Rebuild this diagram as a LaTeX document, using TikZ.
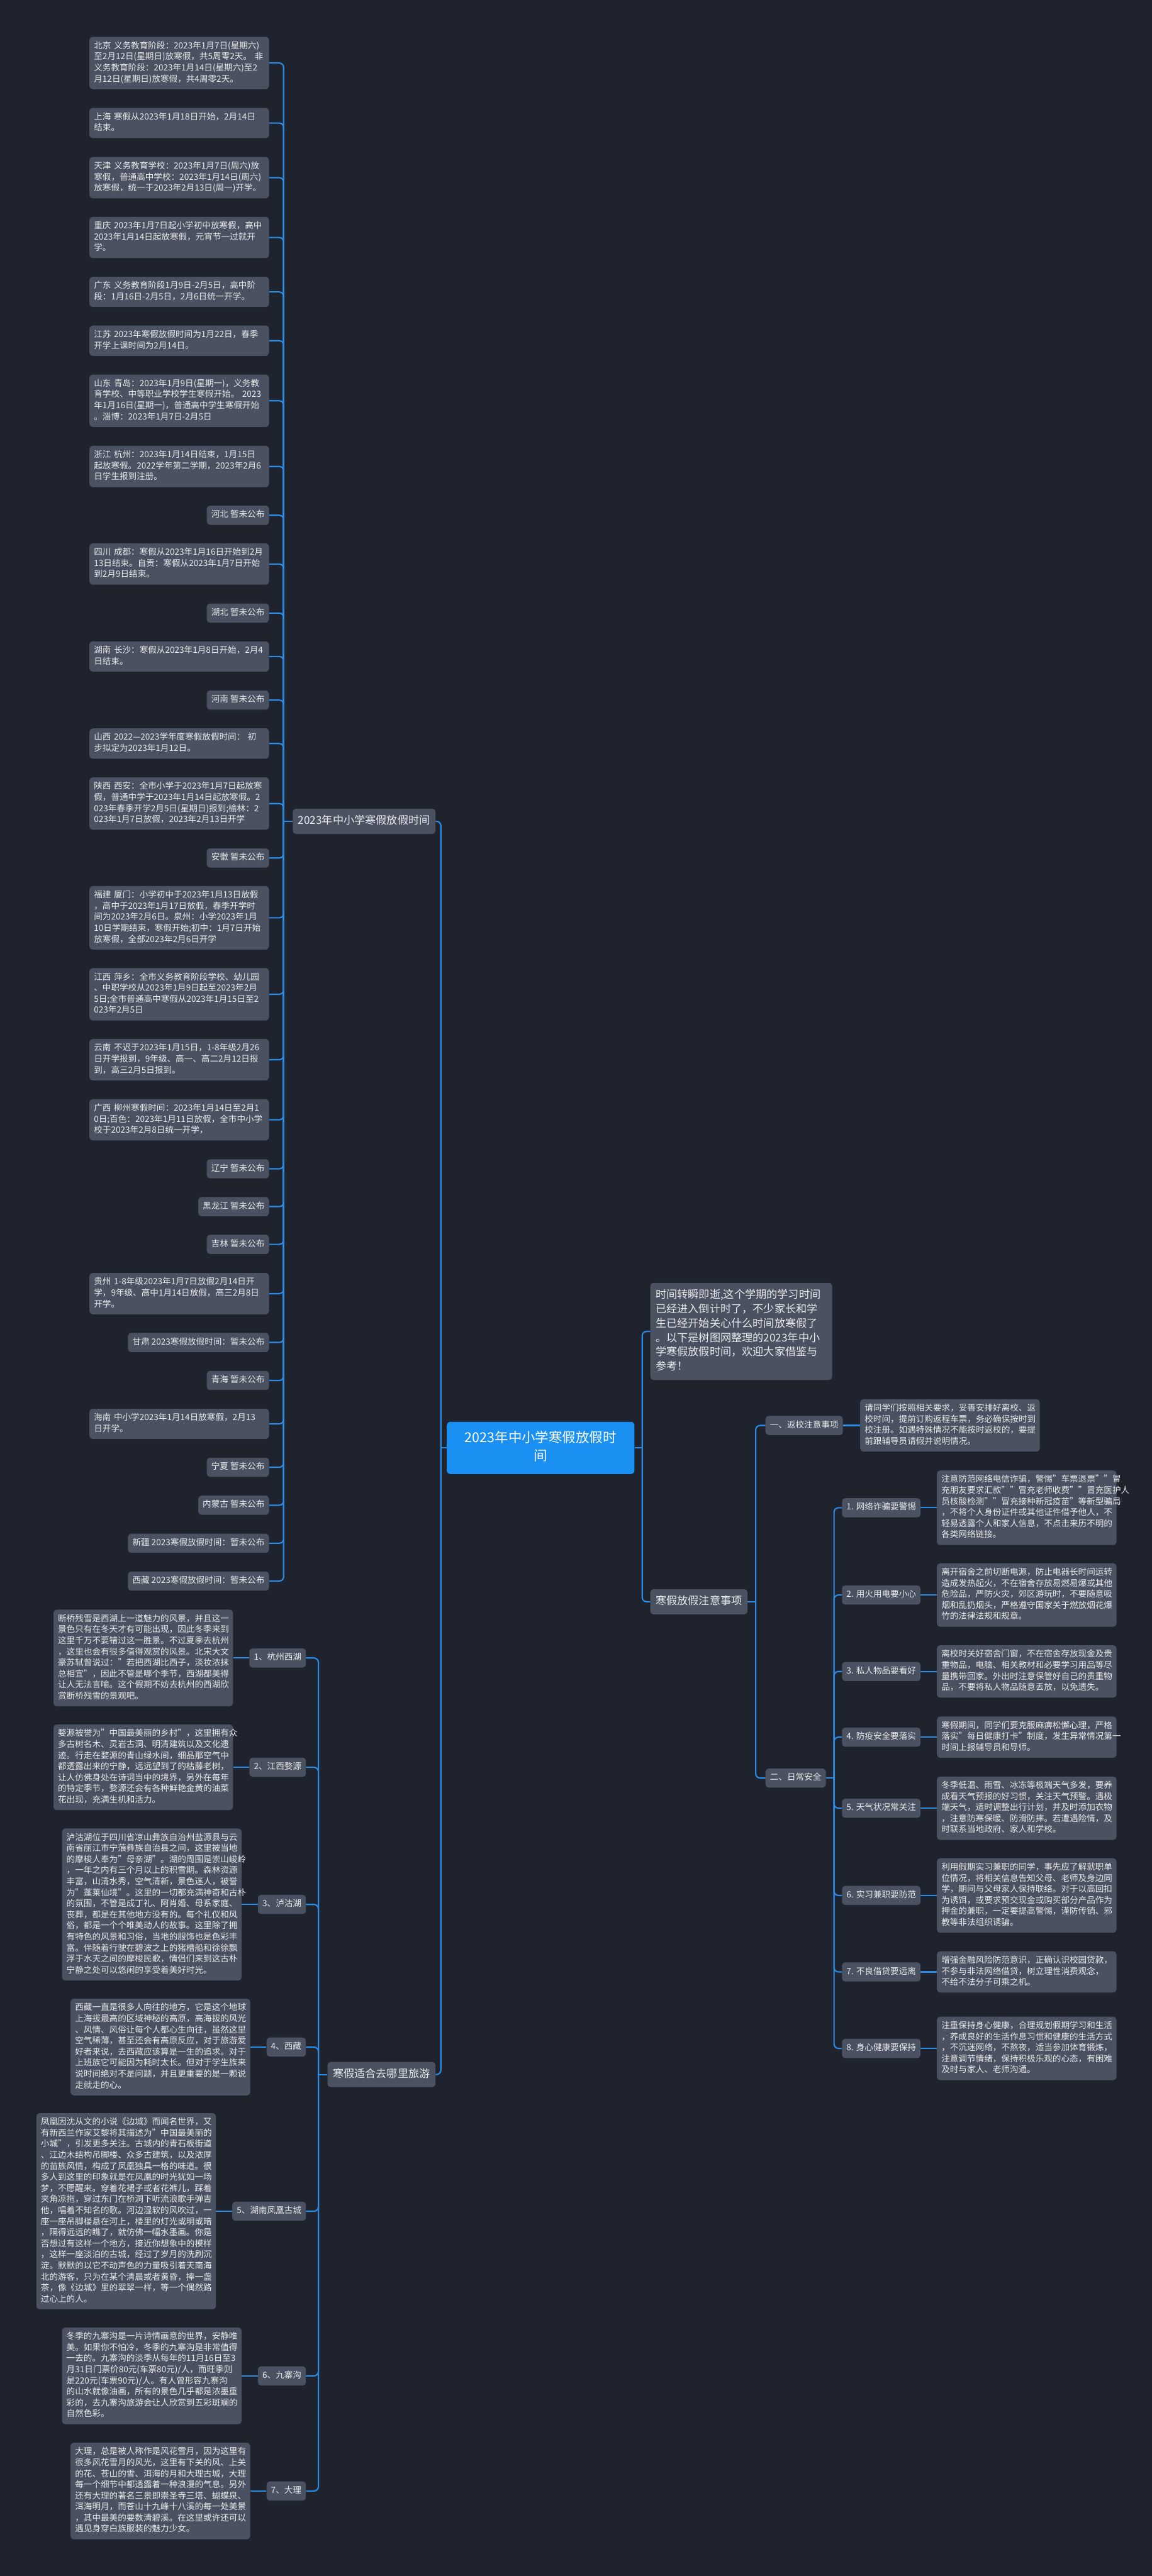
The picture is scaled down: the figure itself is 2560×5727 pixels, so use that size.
\documentclass[tikz,border=0pt]{standalone}
\usepackage{fontspec}
\setmainfont{Noto Sans CJK SC}
\usetikzlibrary{positioning}
\definecolor{bg}{HTML}{1F232E}
\definecolor{card}{HTML}{4A5160}
\definecolor{ink}{HTML}{E8EAEE}
\definecolor{wire}{HTML}{2A8CE6}
\definecolor{hubblue}{HTML}{1A90F2}

\begin{document}
\begin{tikzpicture}[x=1pt,y=-1pt,
    box/.style={fill=card,text=ink,rounded corners=7pt,inner xsep=10pt,inner ysep=9pt,
      font=\fontsize{19}{24.6}\selectfont,align=left,
      execute at begin node=\strut,execute at end node=\strut},
    leaf/.style={box,text width=379pt},
    topic/.style={box,inner xsep=12pt,inner ysep=12pt,font=\fontsize{24}{32}\selectfont},
    hub/.style={fill=hubblue,text=white,rounded corners=8pt,inner xsep=20pt,inner ysep=18pt,
      font=\fontsize{30}{40}\selectfont,align=center,text width=377pt,
      execute at begin node=\strut,execute at end node=\strut},
    link/.style={draw=wire,line width=3pt,rounded corners=10pt}
  ]
  \fill[bg] (0,0) rectangle (2560,5727);
  \useasboundingbox (0,0) rectangle (2560,5727);

  \node[hub] (root) at (1201.5,3219) {2023年中小学寒假放假时\\间};

  % left: holiday dates
  \node[topic,anchor=east] (y2023) at (968,1826) {2023年中小学寒假放假时间};
  \node[leaf,anchor=east] (bj) at (598,140) {北京~义务教育阶段：2023年1月7日(星期六)\\至2月12日(星期日)放寒假，共5周零2天。~非\\义务教育阶段：2023年1月14日(星期六)至2\\月12日(星期日)放寒假，共4周零2天。};
  \node[leaf,anchor=east] (sh) at (598,273.5) {上海~寒假从2023年1月18日开始，2月14日\\结束。};
  \node[leaf,anchor=east] (tj) at (598,395) {天津~义务教育学校：2023年1月7日(周六)放\\寒假，普通高中学校：2023年1月14日(周六)\\放寒假，统一于2023年2月13日(周一)开学。};
  \node[leaf,anchor=east] (cq) at (598,528) {重庆~2023年1月7日起小学初中放寒假，高中\\2023年1月14日起放寒假，元宵节一过就开\\学。};
  \node[leaf,anchor=east] (gd) at (598,649) {广东~义务教育阶段1月9日-2月5日，高中阶\\段：1月16日-2月5日，2月6日统一开学。};
  \node[leaf,anchor=east] (js) at (598,757.5) {江苏~2023年寒假放假时间为1月22日，春季\\开学上课时间为2月14日。};
  \node[leaf,anchor=east] (sd) at (598,891) {山东~青岛：2023年1月9日(星期一)，义务教\\育学校、中等职业学校学生寒假开始。~2023\\年1月16日(星期一)，普通高中学生寒假开始\\。淄博：2023年1月7日-2月5日};
  \node[leaf,anchor=east] (zj) at (598,1037) {浙江~杭州：2023年1月14日结束，1月15日\\起放寒假。2022学年第二学期，2023年2月6\\日学生报到注册。};
  \node[leaf,anchor=east] (sc) at (598,1254) {四川~成都：寒假从2023年1月16日开始到2月\\13日结束。自贡：寒假从2023年1月7日开始\\到2月9日结束。};
  \node[leaf,anchor=east] (hunan) at (598,1459.5) {湖南~长沙：寒假从2023年1月8日开始，2月4\\日结束。};
  \node[leaf,anchor=east] (shanxi) at (598,1653) {山西~2022—2023学年度寒假放假时间：~初\\步拟定为2023年1月12日。};
  \node[leaf,anchor=east] (shaanxi) at (598,1786.5) {陕西~西安：全市小学于2023年1月7日起放寒\\假，普通中学于2023年1月14日起放寒假。2\\023年春季开学2月5日(星期日)报到;榆林：2\\023年1月7日放假，2023年2月13日开学};
  \node[leaf,anchor=east] (fj) at (598,2040.5) {福建~厦门：小学初中于2023年1月13日放假\\，高中于2023年1月17日放假，春季开学时\\间为2023年2月6日。泉州：小学2023年1月\\10日学期结束，寒假开始;初中：1月7日开始\\放寒假，全部2023年2月6日开学};
  \node[leaf,anchor=east] (jx) at (598,2210.5) {江西~萍乡：全市义务教育阶段学校、幼儿园\\、中职学校从2023年1月9日起至2023年2月\\5日;全市普通高中寒假从2023年1月15日至2\\023年2月5日};
  \node[leaf,anchor=east] (yn) at (598,2356) {云南~不迟于2023年1月15日，1-8年级2月26\\日开学报到，9年级、高一、高二2月12日报\\到，高三2月5日报到。};
  \node[leaf,anchor=east] (gx) at (598,2489.5) {广西~柳州寒假时间：2023年1月14日至2月1\\0日;百色：2023年1月11日放假，全市中小学\\校于2023年2月8日统一开学，};
  \node[leaf,anchor=east] (gz) at (598,2876) {贵州~1-8年级2023年1月7日放假2月14日开\\学，9年级、高中1月14日放假，高三2月8日\\开学。};
  \node[leaf,anchor=east] (hainan) at (598,3165.5) {海南~中小学2023年1月14日放寒假，2月13\\日开学。};
  \foreach \n/\t/\y in {hebei/河北/1145.5,hubei/湖北/1363,henan/河南/1556.5,ah/安徽/1907.5,
      ln/辽宁/2598.5,hlj/黑龙江/2682.5,jl/吉林/2766.5,qh/青海/3069,nx/宁夏/3262,nmg/内蒙古/3346.5}
    \node[box,anchor=east] (\n) at (598,\y) {\t~暂未公布};
  \foreach \n/\t/\y in {gs/甘肃/2984.5,xj/新疆/3431,xz/西藏/3515}
    \node[box,anchor=east] (\n) at (598,\y) {\t~2023寒假放假时间：暂未公布};

  % left: travel
  \node[topic,anchor=east] (trip) at (968,4612) {寒假适合去哪里旅游};
  \foreach \i/\t/\y in {1/1、杭州西湖/3686,2/2、江西婺源/3929,3/3、泸沽湖/4234,4/4、西藏/4551,
      5/5、湖南凤凰古城/4916,6/6、九寨沟/5282,7/7、大理/5538}
    \node[box,anchor=east] (t\i) at (680,\y) {\t};
  \node[leaf,left=36pt of t1] (d1) {断桥残雪是西湖上一道魅力的风景，并且这一\\景色只有在冬天才有可能出现，因此冬季来到\\这里千万不要错过这一胜景。不过夏季去杭州\\，这里也会有很多值得观赏的风景。北宋大文\\豪苏轼曾说过："若把西湖比西子，淡妆浓抹\\总相宜"，因此不管是哪个季节，西湖都美得\\让人无法言喻。这个假期不妨去杭州的西湖欣\\赏断桥残雪的景观吧。};
  \node[leaf,left=36pt of t2] (d2) {婺源被誉为"中国最美丽的乡村"，这里拥有众\\多古树名木、灵岩古洞、明清建筑以及文化遗\\迹。行走在婺源的青山绿水间，细品那空气中\\都透露出来的宁静，远远望到了的枯藤老树，\\让人仿佛身处在诗词当中的境界，另外在每年\\的特定季节，婺源还会有各种鲜艳金黄的油菜\\花出现，充满生机和活力。};
  \node[leaf,left=36pt of t3] (d3) {泸沽湖位于四川省凉山彝族自治州盐源县与云\\南省丽江市宁蒗彝族自治县之间，这里被当地\\的摩梭人奉为"母亲湖"。湖的周围是崇山峻岭\\，一年之内有三个月以上的积雪期。森林资源\\丰富，山清水秀，空气清新，景色迷人，被誉\\为"蓬莱仙境"。这里的一切都充满神奇和古朴\\的氛围，不管是成丁礼、阿肖婚、母系家庭、\\丧葬，都是在其他地方没有的。每个礼仪和风\\俗，都是一个个唯美动人的故事。这里除了拥\\有特色的风景和习俗，当地的服饰也是色彩丰\\富。伴随着行驶在碧波之上的猪槽船和徐徐飘\\浮于水天之间的摩梭民歌，情侣们来到这古朴\\宁静之处可以悠闲的享受着美好时光。};
  \node[leaf,left=36pt of t4] (d4) {西藏一直是很多人向往的地方，它是这个地球\\上海拔最高的区域神秘的高原，高海拔的风光\\、风情、风俗让每个人都心生向往，虽然这里\\空气稀薄，甚至还会有高原反应，对于旅游爱\\好者来说，去西藏应该算是一生的追求。对于\\上班族它可能因为耗时太长。但对于学生族来\\说时间绝对不是问题，并且更重要的是一颗说\\走就走的心。};
  \node[leaf,left=36pt of t5] (d5) {凤凰因沈从文的小说《边城》而闻名世界，又\\有新西兰作家艾黎将其描述为"中国最美丽的\\小城"，引发更多关注。古城内的青石板街道\\、江边木结构吊脚楼、众多古建筑，以及浓厚\\的苗族风情，构成了凤凰独具一格的味道。很\\多人到这里的印象就是在凤凰的时光犹如一场\\梦，不愿醒来。穿着花裙子或者花裤儿，踩着\\夹角凉拖，穿过东门在桥洞下听流浪歌手弹吉\\他，唱着不知名的歌。河边湿软的风吹过，一\\座一座吊脚楼悬在河上，楼里的灯光或明或暗\\，隔得远远的瞧了，就仿佛一幅水墨画。你是\\否想过有这样一个地方，接近你想象中的模样\\，这样一座淡泊的古城，经过了岁月的洗刷沉\\淀。默默的以它不动声色的力量吸引着天南海\\北的游客，只为在某个清晨或者黄昏，捧一盏\\茶，像《边城》里的翠翠一样，等一个偶然路\\过心上的人。};
  \node[leaf,left=36pt of t6] (d6) {冬季的九寨沟是一片诗情画意的世界，安静唯\\美。如果你不怕冷，冬季的九寨沟是非常值得\\一去的。九寨沟的淡季从每年的11月16日至3\\月31日门票价80元(车票80元)/人，而旺季则\\是220元(车票90元)/人。有人曾形容九寨沟\\的山水就像油画，所有的景色几乎都是浓墨重\\彩的，去九寨沟旅游会让人欣赏到五彩斑斓的\\自然色彩。};
  \node[leaf,left=36pt of t7] (d7) {大理，总是被人称作是风花雪月，因为这里有\\很多风花雪月的风光，这里有下关的风、上关\\的花、苍山的雪、洱海的月和大理古城，大理\\每一个细节中都透露着一种浪漫的气息。另外\\还有大理的著名三景即崇圣寺三塔、蝴蝶泉、\\洱海明月，而苍山十九峰十八溪的每一处美景\\，其中最美的要数清碧溪。在这里或许还可以\\遇见身穿白族服装的魅力少女。};

  % right: notes
  \node[topic,anchor=west,text width=380pt] (intro) at (1445,2960) {时间转瞬即逝,这个学期的学习时间\\已经进入倒计时了，不少家长和学\\生已经开始关心什么时间放寒假了\\。以下是树图网整理的2023年中小\\学寒假放假时间，欢迎大家借鉴与\\参考！};
  \node[topic,anchor=west] (care) at (1445,3561) {寒假放假注意事项};
  \node[box,anchor=west] (one) at (1701,3169) {一、返校注意事项};
  \node[leaf,right=38pt of one] (onetxt) {请同学们按照相关要求，妥善安排好离校、返\\校时间，提前订购返程车票，务必确保按时到\\校注册。如遇特殊情况不能按时返校的，要提\\前跟辅导员请假并说明情况。};
  \node[box,anchor=west] (two) at (1701,3953) {二、日常安全};
  \foreach \i/\t/\y in {1/1. 网络诈骗要警惕/3352,2/2. 用火用电要小心/3546,3/3. 私人物品要看好/3716,
      4/4. 防疫安全要落实/3862,5/5. 天气状况常关注/4020,6/6. 实习兼职要防范/4214,
      7/7. 不良借贷要远离/4384,8/8. 身心健康要保持/4554}
    \node[box,anchor=west] (s\i) at (1871,\y) {\t};
  \node[leaf,right=36pt of s1] (r1) {注意防范网络电信诈骗，警惕"车票退票""冒\\充朋友要求汇款""冒充老师收费""冒充医护人\\员核酸检测""冒充接种新冠疫苗"等新型骗局\\，不将个人身份证件或其他证件借予他人，不\\轻易透露个人和家人信息，不点击来历不明的\\各类网络链接。};
  \node[leaf,right=36pt of s2] (r2) {离开宿舍之前切断电源，防止电器长时间运转\\造成发热起火，不在宿舍存放易燃易爆或其他\\危险品，严防火灾，郊区游玩时，不要随意吸\\烟和乱扔烟头，严格遵守国家关于燃放烟花爆\\竹的法律法规和规章。};
  \node[leaf,right=36pt of s3] (r3) {离校时关好宿舍门窗，不在宿舍存放现金及贵\\重物品，电脑、相关教材和必要学习用品等尽\\量携带回家。外出时注意保管好自己的贵重物\\品，不要将私人物品随意丢放，以免遗失。};
  \node[leaf,right=36pt of s4] (r4) {寒假期间，同学们要克服麻痹松懈心理，严格\\落实"每日健康打卡"制度，发生异常情况第一\\时间上报辅导员和导师。};
  \node[leaf,right=36pt of s5] (r5) {冬季低温、雨雪、冰冻等极端天气多发，要养\\成看天气预报的好习惯，关注天气预警。遇极\\端天气，适时调整出行计划，并及时添加衣物\\，注意防寒保暖、防滑防摔。若遭遇险情，及\\时联系当地政府、家人和学校。};
  \node[leaf,right=36pt of s6] (r6) {利用假期实习兼职的同学，事先应了解就职单\\位情况，将相关信息告知父母、老师及身边同\\学，期间与父母家人保持联络。对于以高回扣\\为诱饵，或要求预交现金或购买部分产品作为\\押金的兼职，一定要提高警惕，谨防传销、邪\\教等非法组织诱骗。};
  \node[leaf,right=36pt of s7] (r7) {增强金融风险防范意识，正确认识校园贷款，\\不参与非法网络借贷，树立理性消费观念，\\不给不法分子可乘之机。};
  \node[leaf,right=36pt of s8] (r8) {注重保持身心健康，合理规划假期学习和生活\\，养成良好的生活作息习惯和健康的生活方式\\，不沉迷网络，不熬夜，适当参加体育锻炼，\\注意调节情绪，保持积极乐观的心态，有困难\\及时与家人、老师沟通。};

  % connectors
  \draw[link] (root.west) -- ++(-13,0);
  \foreach \c in {y2023,trip} \draw[link] ([xshift=-13pt]root.west) |- (\c.east);
  \draw[link] (root.east) -- ++(17,0);
  \foreach \c in {intro,care} \draw[link] ([xshift=17pt]root.east) |- (\c.west);
  \draw[link] (y2023.west) -- ++(-20,0);
  \foreach \c in {bj,sh,tj,cq,gd,js,sd,zj,hebei,sc,hubei,hunan,henan,shanxi,shaanxi,ah,fj,jx,yn,gx,
      ln,hlj,jl,gz,gs,qh,hainan,nx,nmg,xj,xz}
    \draw[link] ([xshift=-20pt]y2023.west) |- (\c.east);
  \draw[link] (trip.west) -- ++(-20,0);
  \foreach \i in {1,...,7} {
    \draw[link] ([xshift=-20pt]trip.west) |- (t\i.east);
    \draw[link] (t\i.west) -- (d\i.east);
  }
  \draw[link] (care.east) -- ++(18,0);
  \foreach \c in {one,two} \draw[link] ([xshift=18pt]care.east) |- (\c.west);
  \draw[link] (one.east) -- (onetxt.west);
  \draw[link] (two.east) -- ++(18,0);
  \foreach \i in {1,...,8} {
    \draw[link] ([xshift=18pt]two.east) |- (s\i.west);
    \draw[link] (s\i.east) -- (r\i.west);
  }
\end{tikzpicture}
\end{document}
